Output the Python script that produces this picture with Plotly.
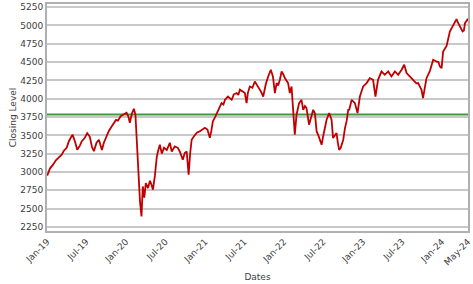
import plotly.graph_objects as go

dates = [
 "2019-01-02","2019-01-15","2019-01-29","2019-02-11","2019-02-25","2019-03-10","2019-03-20","2019-04-02",
 "2019-04-12","2019-04-25","2019-04-29","2019-05-10","2019-05-21","2019-06-02","2019-06-11","2019-06-25",
 "2019-07-06","2019-07-18","2019-07-28","2019-08-06","2019-08-18","2019-08-29","2019-09-12","2019-09-21",
 "2019-10-04","2019-10-14","2019-10-27","2019-11-06","2019-11-16","2019-11-25","2019-12-07","2019-12-18",
 "2020-01-04","2020-01-12","2020-01-19","2020-01-29","2020-02-07","2020-02-14","2020-02-21","2020-02-28",
 "2020-03-06","2020-03-13","2020-03-19","2020-03-26","2020-04-02","2020-04-12","2020-04-21","2020-04-28",
 "2020-05-05","2020-05-14","2020-05-23","2020-05-30","2020-06-06","2020-06-15","2020-06-25","2020-07-08",
 "2020-07-22","2020-07-31","2020-08-14","2020-08-28","2020-09-06","2020-09-20","2020-09-29","2020-10-08",
 "2020-10-13","2020-10-17","2020-10-24","2020-10-31","2020-11-14","2020-11-25","2020-12-07","2020-12-21",
 "2020-12-31","2021-01-12","2021-01-23","2021-01-30","2021-02-06","2021-02-18","2021-03-01","2021-03-10",
 "2021-03-18","2021-03-27","2021-04-03","2021-04-17","2021-04-26","2021-05-04","2021-05-14","2021-05-27",
 "2021-06-04","2021-06-11","2021-06-23","2021-07-04","2021-07-12","2021-07-18","2021-07-27","2021-08-08",
 "2021-08-19","2021-09-03","2021-09-16","2021-09-27","2021-10-09","2021-10-20","2021-11-01","2021-11-11",
 "2021-11-20","2021-11-28","2021-12-05","2021-12-13","2021-12-21","2021-12-29","2022-01-05","2022-01-20",
 "2022-01-28","2022-02-05","2022-02-12","2022-02-20","2022-02-28","2022-03-12","2022-03-23","2022-03-31",
 "2022-04-08","2022-04-15","2022-04-27","2022-05-08","2022-05-16","2022-05-24","2022-06-01","2022-06-09",
 "2022-06-16","2022-06-24","2022-07-01","2022-07-09","2022-07-17","2022-07-29","2022-08-09","2022-08-16",
 "2022-08-24","2022-09-01","2022-09-07","2022-09-13","2022-09-20","2022-10-02","2022-10-10","2022-10-18",
 "2022-10-25","2022-10-30","2022-11-10","2022-11-25","2022-12-07","2022-12-18","2023-01-02","2023-01-18",
 "2023-02-02","2023-02-17","2023-02-28","2023-03-12","2023-03-28","2023-04-12","2023-04-28","2023-05-13",
 "2023-05-29","2023-06-13","2023-06-29","2023-07-11","2023-07-22","2023-08-06","2023-08-21","2023-09-05",
 "2023-09-13","2023-09-21","2023-09-29","2023-10-06","2023-10-14","2023-10-22","2023-11-07","2023-11-22",
 "2023-12-07","2023-12-16","2023-12-23","2023-12-31","2024-01-07","2024-01-23","2024-02-07","2024-02-22",
 "2024-03-01","2024-03-09","2024-03-15","2024-03-24","2024-04-06","2024-04-12","2024-04-17","2024-04-28",
 "2024-05-01",
]

closing = [
 2950,3050,3100,3160,3200,3235,3290,3330,
 3420,3485,3510,3420,3303,3360,3420,3467,
 3530,3480,3340,3285,3400,3440,3300,3400,
 3490,3560,3620,3660,3710,3700,3758,3780,
 3808,3760,3672,3800,3863,3780,3400,2950,
 2600,2394,2803,2650,2850,2780,2880,2830,
 2758,2950,3212,3300,3372,3250,3330,3300,
 3399,3280,3350,3330,3280,3167,3260,3280,
 3150,2962,3250,3440,3500,3540,3553,3580,
 3603,3580,3467,3560,3690,3760,3826,3880,
 3940,3920,3985,4030,4000,3985,4060,4077,
 4050,4122,4100,4077,3940,4080,4167,4150,
 4235,4167,4100,4030,4200,4303,4395,4300,
 4077,4213,4180,4258,4372,4330,4282,4213,
 4077,4167,3894,3508,3781,3940,3985,3849,
 3900,3872,3645,3758,3849,3800,3553,3500,
 3440,3372,3485,3600,3713,3804,3713,3463,
 3500,3531,3400,3303,3327,3440,3599,3700,
 3849,3850,3985,3940,3804,4030,4167,4213,
 4281,4258,4030,4258,4372,4326,4372,4303,
 4372,4326,4395,4463,4350,4310,4258,4210,
 4213,4167,4122,4009,4150,4280,4380,4531,
 4508,4500,4440,4418,4644,4720,4917,5009,
 5050,5086,5040,4985,4917,4930,5032,5077,
 5060,
]

reference_level = 3785

tick_dates = ["2019-01-01","2019-07-01","2020-01-01","2020-07-01","2021-01-01","2021-07-01",
              "2022-01-01","2022-07-01","2023-01-01","2023-07-01","2024-01-01","2024-05-01"]
tick_labels = ["Jan-19","Jul-19","Jan-20","Jul-20","Jan-21","Jul-21",
               "Jan-22","Jul-22","Jan-23","Jul-23","Jan-24","May-24"]
y_ticks = [2250,2500,2750,3000,3250,3500,3750,4000,4250,4500,4750,5000,5250]

font_family = "DejaVu Sans"
text_color = "#404040"

fig = go.Figure()
fig.add_trace(go.Scatter(
    x=[tick_dates[0], tick_dates[-1]], y=[reference_level, reference_level],
    mode="lines", line=dict(color="#3f9a3f", width=2), hoverinfo="skip", showlegend=False))
fig.add_trace(go.Scatter(
    x=dates, y=closing, mode="lines",
    line=dict(color="#c00000", width=1.8), showlegend=False))

fig.update_layout(
    width=473, height=284,
    margin=dict(l=47, r=5, t=4, b=53),
    paper_bgcolor="white", plot_bgcolor="white",
    font=dict(family=font_family, size=9, color=text_color),
    showlegend=False,
)
fig.update_xaxes(
    type="date", range=[tick_dates[0], tick_dates[-1]],
    tickmode="array", tickvals=tick_dates, ticktext=tick_labels,
    tickangle=-45, tickfont=dict(size=9, color=text_color),
    showgrid=False, zeroline=False,
    showline=True, linecolor="#b0b0b0", linewidth=2, mirror=True,
    ticks="",
    title=dict(text="Dates", font=dict(size=9, color=text_color), standoff=7),
    automargin=False,
)
fig.update_yaxes(
    range=[2195, 5292],
    tickmode="array", tickvals=y_ticks,
    tickfont=dict(size=9, color=text_color),
    showgrid=True, gridcolor="#c8c8c8", gridwidth=1.5, zeroline=False,
    showline=True, linecolor="#b0b0b0", linewidth=2, mirror=True,
    ticks="",
    title=dict(text="Closing Level", font=dict(size=9, color=text_color), standoff=2),
    automargin=False,
)

fig.write_html("out.html")
